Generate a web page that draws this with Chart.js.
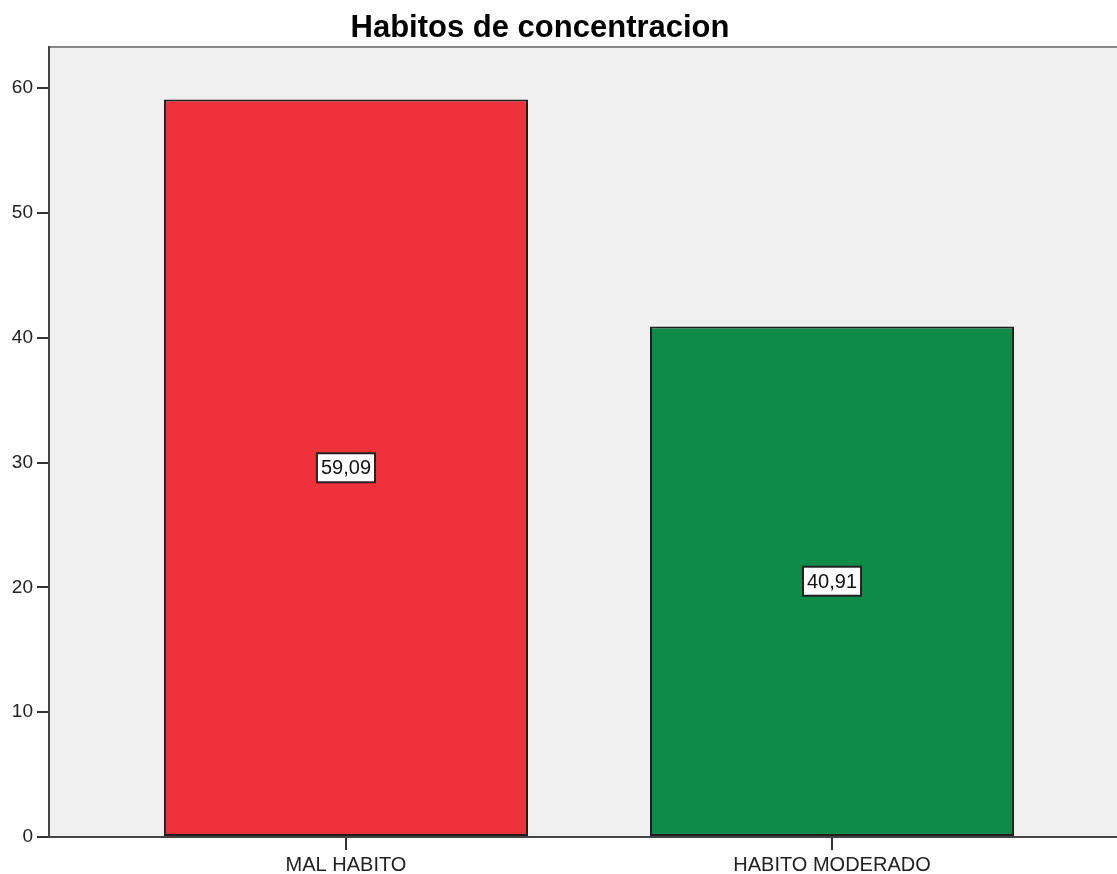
<!DOCTYPE html>
<html>
<head>
<meta charset="utf-8">
<script src="https://cdn.jsdelivr.net/npm/chart.js@4/dist/chart.umd.min.js"></script>
<style>
  html, body { margin: 0; padding: 0; background: #fff; overflow: hidden; }
  #wrap { width: 1140px; height: 874px; }
</style>
</head>
<body>
<div id="wrap"><canvas id="habitos"></canvas></div>
<script>
// datos del grafico
const categorias = ['MAL HABITO', 'HABITO MODERADO'];
const porcentajes = [59.09, 40.91];
const colores = ['#EF3139', '#0F8B48'];
const tituloTexto = 'Habitos de concentracion';

// fondo gris del area del grafico + borde superior + titulo
const fondoPlugin = {
    id: 'fondo',
    beforeDraw(chart) {
        const { ctx, chartArea: a } = chart;
        ctx.save();
        ctx.fillStyle = '#F0F0F0';
        ctx.fillRect(a.left, a.top, a.right - a.left, a.bottom - a.top);
        ctx.strokeStyle = '#888';
        ctx.lineWidth = 2;
        ctx.beginPath();
        ctx.moveTo(a.left, a.top);
        ctx.lineTo(a.right, a.top);
        ctx.stroke();
        ctx.fillStyle = '#000';
        ctx.font = 'bold 31px "Liberation Sans", Arial, sans-serif';
        ctx.textAlign = 'center';
        ctx.textBaseline = 'alphabetic';
        ctx.fillText(tituloTexto, 540, 37);
        ctx.restore();
    }
};

// etiquetas con valor en medio de cada barra
const etiquetasPlugin = {
    id: 'etiquetas',
    afterDatasetsDraw(chart) {
        const { ctx } = chart;
        const meta = chart.getDatasetMeta(0);
        ctx.save();
        ctx.font = '20px "Liberation Sans", Arial, sans-serif';
        ctx.textAlign = 'center';
        ctx.textBaseline = 'middle';
        meta.data.forEach((bar, i) => {
            const txt = porcentajes[i].toFixed(2).replace('.', ',');
            const cx = bar.x;
            const cy = (bar.y + bar.base) / 2;
            const w = ctx.measureText(txt).width + 8;
            const h = 29;
            ctx.fillStyle = '#fff';
            ctx.fillRect(cx - w / 2, cy - h / 2, w, h);
            ctx.strokeStyle = '#222';
            ctx.lineWidth = 2;
            ctx.strokeRect(cx - w / 2, cy - h / 2, w, h);
            ctx.fillStyle = '#111';
            ctx.fillText(txt, cx, cy + 1);
        });
        ctx.restore();
    }
};

const ctx = document.getElementById('habitos').getContext('2d');
new Chart(ctx, {
    type: 'bar',
    data: {
        datasets: [{
            data: porcentajes.map((v, i) => ({ x: i, y: v })),
            backgroundColor: colores,
            borderColor: '#1e1e1e',
            borderWidth: 2,
            borderSkipped: false,
            categoryPercentage: 1,
            barPercentage: 0.749
        }]
    },
    options: {
        responsive: true,
        maintainAspectRatio: false,
        animation: false,
        layout: { padding: { top: 47, right: 11, left: 0, bottom: 0 } },
        plugins: {
            legend: { display: false },
            title: { display: false },
            tooltip: { enabled: false }
        },
        scales: {
            x: {
                type: 'linear',
                offset: false,
                min: -0.611,
                max: 1.611,
                grid: { offset: false, drawOnChartArea: false, drawTicks: true, tickLength: 13, color: '#333', lineWidth: 2 },
                border: { display: true, color: '#444', width: 2 },
                ticks: {
                    color: '#222',
                    padding: 3,
                    font: { family: '"Liberation Sans", Arial, sans-serif', size: 20 },
                    callback: (v) => categorias[v]
                },
                afterBuildTicks(scale) { scale.ticks = categorias.map((c, i) => ({ value: i })); },
                afterFit(scale) { scale.height = 37; }
            },
            y: {
                min: 0,
                max: 63.3,
                grid: { drawOnChartArea: false, drawTicks: true, tickLength: 12, color: '#333', lineWidth: 2 },
                border: { display: true, color: '#444', width: 2 },
                ticks: {
                    stepSize: 10,
                    includeBounds: false,
                    color: '#222',
                    padding: 4,
                    font: { family: '"Liberation Sans", Arial, sans-serif', size: 19 }
                },
                afterFit(scale) { scale.width = 49; }
            }
        }
    },
    plugins: [fondoPlugin, etiquetasPlugin]
});
</script>
</body>
</html>
